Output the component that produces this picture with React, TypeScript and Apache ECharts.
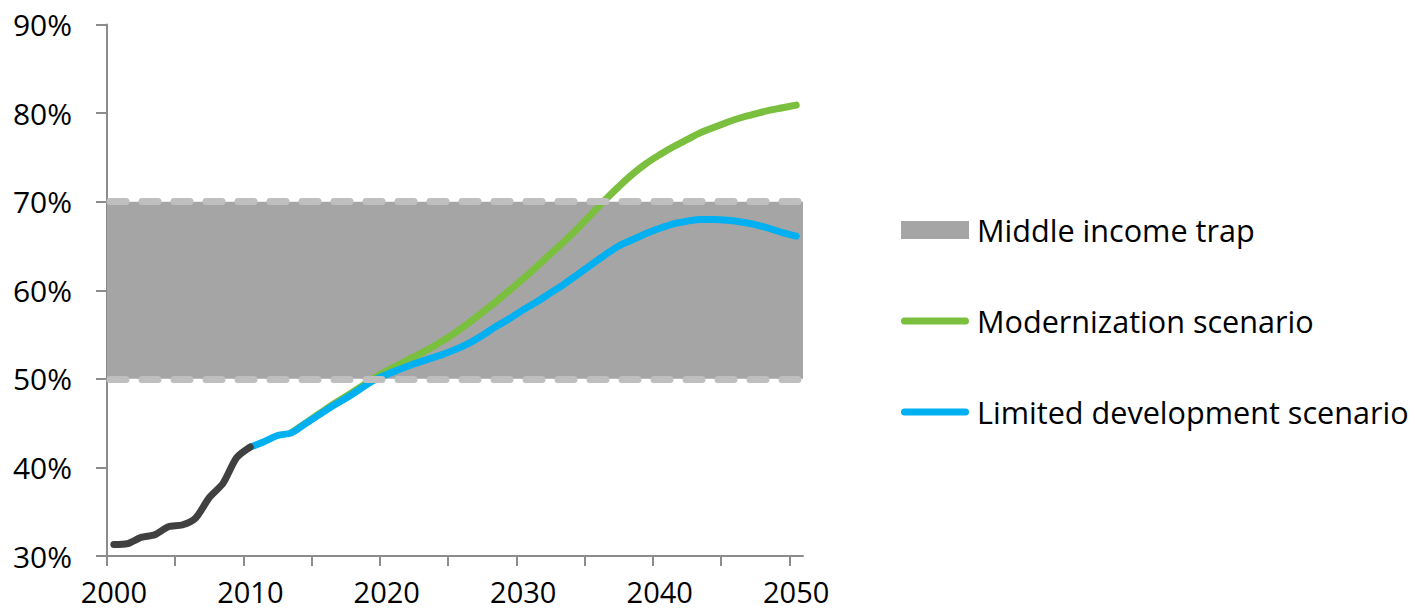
import React, { useEffect, useRef } from 'react';
import * as echarts from 'echarts';

// Urbanisation rate (%) — observed history and two projected scenarios
const historyStart = 2000;
const historyValues = [31.3, 31.4, 32.1, 32.4, 33.3, 33.5, 34.3, 36.6, 38.2, 41.1, 42.3];

const limitedStart = 2010;
const limitedValues = [
  42.3, 42.9, 43.6, 43.9, 44.9, 45.9, 46.9, 47.8, 48.8, 49.8,
  50.5, 51.1, 51.7, 52.2, 52.7, 53.3, 54.0, 54.9, 55.9, 56.8,
  57.8, 58.7, 59.7, 60.7, 61.8, 62.9, 64.0, 65.0, 65.7, 66.4,
  67.0, 67.5, 67.8, 68.0, 68.0, 67.9, 67.7, 67.4, 67.0, 66.5,
  66.1,
];

const modernStart = 2013;
const modernValues = [
  43.9, 44.95, 46.0, 47.05, 48.0, 49.0, 50.0, 50.9,
  51.7, 52.5, 53.3, 54.2, 55.2, 56.3, 57.5, 58.7, 60.0, 61.3,
  62.7, 64.1, 65.5, 67.0, 68.6, 70.2, 71.7, 73.1, 74.3, 75.3,
  76.2, 77.0, 77.8, 78.4, 79.0, 79.5, 79.9, 80.3, 80.6, 80.9,
];

// Middle income trap band (% range)
const trapRange = [50, 70];

const yTicks = [30, 40, 50, 60, 70, 80, 90];
const xTickYears = [1999.5, 2004.5, 2009.5, 2014.5, 2019.5, 2024.5, 2029.5, 2034.5, 2039.5, 2044.5, 2049.5];
const xLabelYears = [2000, 2010, 2020, 2030, 2040, 2050];

const seriesNames = ['Middle income trap', 'Modernization scenario', 'Limited development scenario'];
const colors = { trap: '#a5a5a5', trapEdge: '#bfbfbf', modern: '#7bbf3f', limited: '#00b0f0', history: '#404040' };

const FONT = "'Open Sans', sans-serif";
const FONT_SIZE = 30;
const capsule = 'path://M3.5,0 H64.5 A3.5,3.5 0 0 1 64.5,7 H3.5 A3.5,3.5 0 0 1 3.5,0 Z';

const toPairs = (start: number, vals: number[]) => vals.map((v, i) => [start + i, v]);

export default function App() {
  const ref = useRef<HTMLDivElement>(null);

  useEffect(() => {
    if (!ref.current) return;
    const chart = echarts.init(ref.current, undefined, { renderer: 'svg' });
    const lineCommon = {
      type: 'line' as const,
      symbol: 'none',
      showSymbol: false,
      smooth: 0.35,
      silent: true,
    };
    chart.setOption({
      animation: false,
      backgroundColor: '#ffffff',
      grid: { left: 107, right: 612, top: 24.5, bottom: 55 },
      legend: {
        orient: 'vertical',
        left: 901,
        top: 213,
        padding: 0,
        itemWidth: 68,
        itemHeight: 18,
        itemGap: 57,
        selectedMode: false,
        textStyle: { fontSize: 30.6, color: '#000', fontFamily: FONT, lineHeight: 34, padding: [0, 0, 0, 3] },
        data: [
          { name: seriesNames[0], icon: 'rect' },
          { name: seriesNames[1], icon: capsule },
          { name: seriesNames[2], icon: capsule },
        ],
      },
      xAxis: {
        type: 'value',
        min: 1999.5,
        max: 2050.5,
        splitLine: { show: false },
        axisLine: { lineStyle: { color: '#8c8c8c', width: 2 } },
        axisTick: { customValues: xTickYears, length: 10, lineStyle: { color: '#8c8c8c', width: 2 } },
        axisLabel: {
          customValues: xLabelYears,
          formatter: (v: number) => String(v),
          fontSize: 29,
          lineHeight: 28,
          color: '#000',
          fontFamily: FONT,
          margin: 21,
        },
      },
      yAxis: {
        type: 'value',
        min: 30,
        max: 90,
        interval: 10,
        splitLine: { show: false },
        axisLine: { show: true, lineStyle: { color: '#8c8c8c', width: 2 } },
        axisTick: { show: true, length: 11, customValues: yTicks, lineStyle: { color: '#8c8c8c', width: 2 } },
        axisLabel: {
          formatter: '{value}%',
          fontSize: FONT_SIZE,
          color: '#000',
          fontFamily: FONT,
          margin: 35,
        },
      },
      series: [
        {
          type: 'line',
          name: seriesNames[0],
          data: [],
          symbol: 'none',
          silent: true,
          itemStyle: { color: colors.trap },
          lineStyle: { color: colors.trap },
          markArea: {
            silent: true,
            itemStyle: { color: colors.trap },
            data: [[{ yAxis: trapRange[0] }, { yAxis: trapRange[1] }]],
          },
          markLine: {
            silent: true,
            symbol: ['none', 'none'],
            label: { show: false },
            lineStyle: { color: colors.trapEdge, width: 7, type: [16, 16], cap: 'round', dashOffset: -3.5 },
            data: trapRange.map((v) => ({ yAxis: v })),
          },
        },
        {
          ...lineCommon,
          name: seriesNames[1],
          data: toPairs(modernStart, modernValues),
          itemStyle: { color: colors.modern },
          lineStyle: { color: colors.modern, width: 7, cap: 'round' },
        },
        {
          ...lineCommon,
          name: seriesNames[2],
          data: toPairs(limitedStart, limitedValues),
          itemStyle: { color: colors.limited },
          lineStyle: { color: colors.limited, width: 7, cap: 'round' },
        },
        {
          ...lineCommon,
          name: 'History',
          smooth: 0.25,
          data: toPairs(historyStart, historyValues),
          itemStyle: { color: colors.history },
          lineStyle: { color: colors.history, width: 7, cap: 'round' },
        },
      ],
    });
    return () => chart.dispose();
  }, []);

  return (
    <div
      ref={ref}
      style={{ position: 'fixed', left: 0, top: 0, width: 1415, height: 611, background: '#fff' }}
    />
  );
}
